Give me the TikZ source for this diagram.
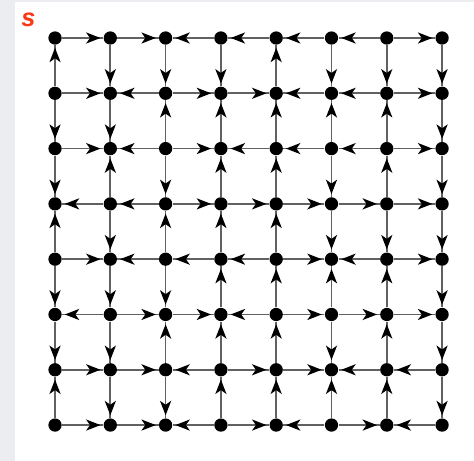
\documentclass[tikz,border=0pt]{standalone}
\usepackage{fontspec}
\setsansfont{Liberation Sans}
\usetikzlibrary{arrows.meta,decorations.markings}
\definecolor{labelred}{RGB}{250,55,20}
\definecolor{panelgray}{RGB}{236,237,240}

\begin{document}
\begin{tikzpicture}[
      vert/.style={circle,fill=black,inner sep=0pt,minimum size=0.24cm},
      edge/.style={draw=black!62,line width=0.9pt,postaction={decorate},
        decoration={markings,mark=at position -0.05cm with
          {\arrow{Stealth[length=0.26cm,width=0.2cm,inset=0.07cm,color=black]}}}},
      lbl/.style={font=\sffamily\itshape\bfseries\fontsize{13}{15}\selectfont,text=labelred}
    ]
      % panel and margins
      \useasboundingbox (-0.995,-7.649) rectangle (7.577,0.687);
      \fill[white] (-0.995,-7.649) rectangle (7.577,0.687);
      \fill[panelgray] (-0.995,-7.649) rectangle (-0.724,0.687);
      \fill[panelgray] (-0.995,0.655) rectangle (7.577,0.687);
      \node[lbl] (s) at (-0.48,0.32) {s};
      % vertices, v<column><row>, row 0 on top
      \foreach \c in {0,...,7}
        \foreach \r in {0,...,7}
          \node[vert] (v\c\r) at (\c,-\r) {};
      % horizontal edges, row by row
      \foreach \a/\b in {00/10,10/20,30/20,40/30,50/40,60/50,60/70,
                         01/11,21/11,21/31,31/41,51/41,61/51,61/71,
                         02/12,22/12,22/32,42/32,52/42,62/52,62/72,
                         13/03,23/13,23/33,33/43,43/53,53/63,63/73,
                         04/14,24/14,34/24,44/34,44/54,64/54,64/74,
                         15/05,15/25,25/35,45/35,45/55,55/65,65/75,
                         06/16,16/26,36/26,36/46,46/56,66/56,76/66,
                         07/17,17/27,37/27,37/47,57/47,57/67,77/67}
        \draw[edge] (v\a) -- (v\b);
      % vertical edges, column by column
      \foreach \a/\b in {01/00,01/02,02/03,04/03,04/05,05/06,07/06,
                         10/11,11/12,13/12,13/14,14/15,15/16,16/17,
                         20/21,22/21,22/23,24/23,24/25,26/25,26/27,
                         30/31,32/31,33/32,34/33,35/34,36/35,37/36,
                         41/40,42/41,43/42,44/43,45/44,46/45,47/46,
                         50/51,52/51,52/53,53/54,55/54,55/56,57/56,
                         60/61,62/61,63/62,63/64,65/64,66/65,67/66,
                         70/71,71/72,72/73,73/74,74/75,75/76,76/77}
        \draw[edge] (v\a) -- (v\b);
    \end{tikzpicture}
\end{document}
